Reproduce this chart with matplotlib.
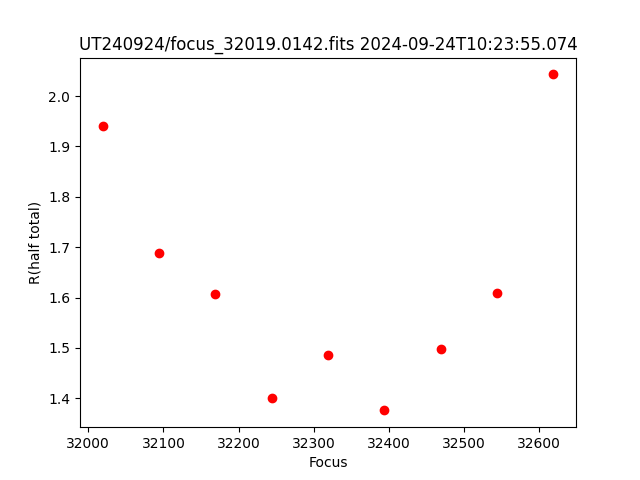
import numpy as np
import matplotlib
matplotlib.use('Agg')
import matplotlib.pyplot as plt

focus = [32019, 32094, 32169, 32244, 32319, 32394, 32469, 32544, 32619]
rhalf = [1.940, 1.688, 1.608, 1.400, 1.485, 1.376, 1.497, 1.610, 2.043]

plt.figure(figsize=(6.4, 4.8), dpi=100)
plt.plot(focus, rhalf, 'ro')
plt.xlabel('Focus')
plt.ylabel('R(half total)')
plt.title('UT240924/focus_32019.0142.fits 2024-09-24T10:23:55.074')
plt.savefig('out.png')
